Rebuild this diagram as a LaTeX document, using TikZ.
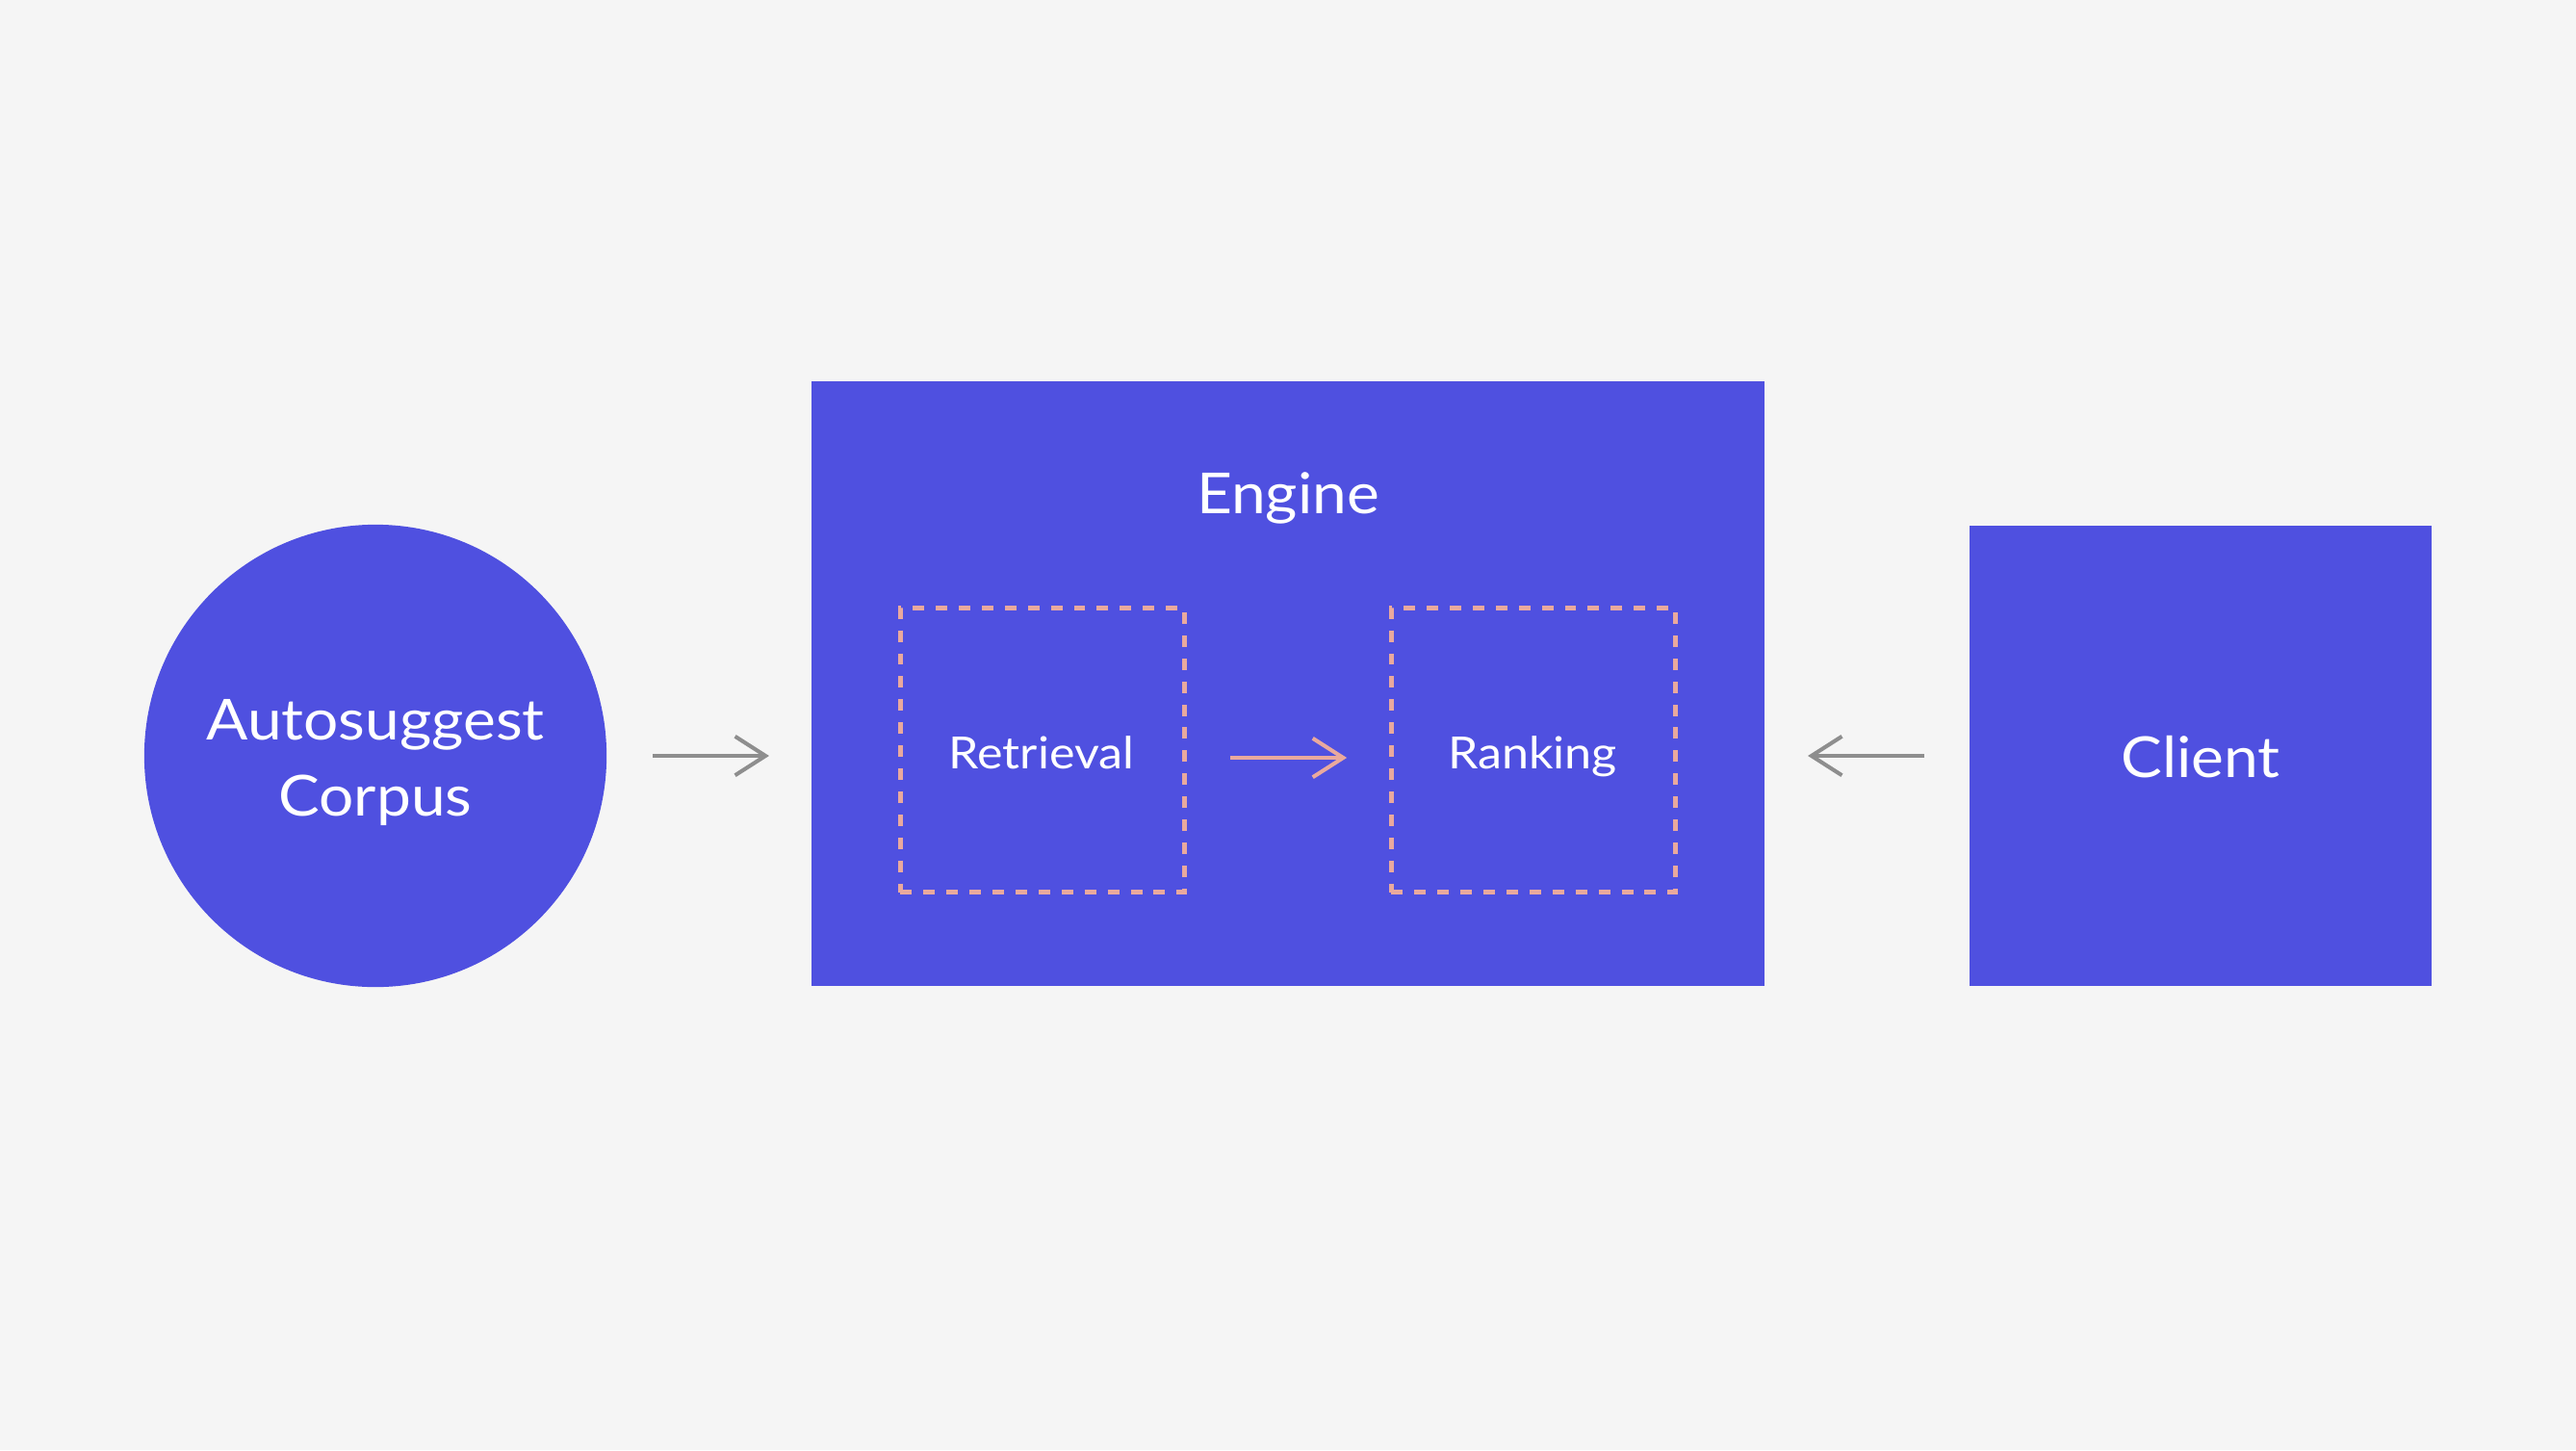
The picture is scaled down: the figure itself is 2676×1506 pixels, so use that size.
\documentclass[tikz,border=0pt]{standalone}
\usepackage{fontspec}
\setmainfont{Lato}[FakeStretch=1.09]
\usetikzlibrary{arrows.meta}
\definecolor{bg}{HTML}{F5F5F5}
\definecolor{blu}{HTML}{4F50E0}
\definecolor{gry}{HTML}{8E8E8E}
\definecolor{sal}{HTML}{E9A99E}
\tikzset{
  px/.style={x=0.01cm,y=-0.01cm},
  bluebox/.style={draw=none,fill=blu,rectangle,inner sep=0pt},
  dashbox/.style={draw=sal,line width=1.3pt,dash pattern=on 3.4pt off 3.4pt,rectangle,inner sep=0pt,minimum width=2.95cm,minimum height=2.95cm},
  bigtxt/.style={text=white,font=\fontsize{16.7pt}{22.5pt}\selectfont,inner sep=0pt,anchor=base},
  smalltxt/.style={text=white,font=\fontsize{13.1pt}{16pt}\selectfont,inner sep=0pt,anchor=base},
  conn/.style={line width=1.15pt,-{Straight Barb[length=9pt,width=11.5pt,line width=1.15pt]}},
}
\begin{document}
\begin{tikzpicture}[px]
\fill[bg] (0,0) rectangle (2676,1506);
\useasboundingbox (0,0) rectangle (2676,1506);
\node[bluebox,circle,minimum size=4.8cm] (corpus) at (390,785) {};
\node[bluebox,minimum width=9.9cm,minimum height=6.28cm] (engine) at (1338,710) {};
\node[bluebox,minimum width=4.8cm,minimum height=4.78cm] (client) at (2286,785) {};
\node[dashbox] (retr) at (1083,779) {};
\node[dashbox] (rank) at (1593,779) {};
\node[bigtxt] (enginelbl) at (1338,533) {Engine};
\node[bigtxt] (clientlbl) at (2286,807) {Client};
\node[bigtxt] (corpuslbl1) at (390,768) {Autosuggest};
\node[bigtxt] (corpuslbl2) at (390,847) {Corpus};
\node[smalltxt] (retrlbl) at (1082,798) {Retrieval};
\node[smalltxt] (ranklbl) at (1592,798) {Ranking};
\draw[conn,gry,shorten <=0.47cm,shorten >=0.43cm] (corpus.east) -- (corpus.east -| engine.west);
\draw[conn,sal,shorten <=0.45cm,shorten >=0.44cm] ([yshift=-0.08cm]retr.east) -- ([yshift=-0.08cm]rank.west);
\draw[conn,gry,shorten <=0.46cm,shorten >=0.44cm] (client.west) -- (client.west -| engine.east);
\end{tikzpicture}
\end{document}
